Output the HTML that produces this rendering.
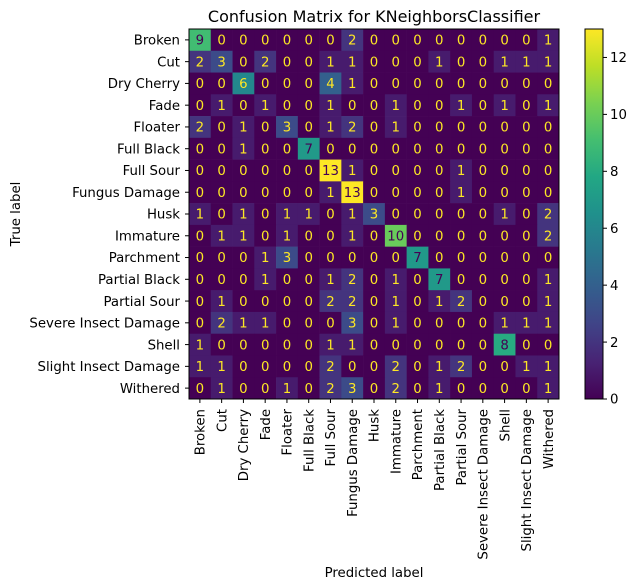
<!DOCTYPE html>
<html><head><meta charset="utf-8"><style>
html,body{margin:0;padding:0;background:#fff;width:639px;height:588px;overflow:hidden}
svg text{font-family:"DejaVu Sans","Liberation Sans",sans-serif}
</style></head><body>
<svg id="chart" width="639" height="588" viewBox="0 0 639 588" xmlns="http://www.w3.org/2000/svg">
<defs>
<linearGradient id="cbgrad" x1="0" y1="1" x2="0" y2="0"></linearGradient>
</defs>
<text x="374" y="22" font-size="16" text-anchor="middle">Confusion Matrix for KNeighborsClassifier</text>
<g id="cells"></g>
<g id="ylabels"></g>
<g id="xlabels"></g>
<text x="374" y="577" font-size="13.3" text-anchor="middle">Predicted label</text>
<text x="0" y="0" font-size="13.3" text-anchor="middle" transform="translate(20,214) rotate(-90)">True label</text>
<g id="colorbar"></g>
</svg>
<script>
const labels=["Broken","Cut","Dry Cherry","Fade","Floater","Full Black","Full Sour","Fungus Damage","Husk","Immature","Parchment","Partial Black","Partial Sour","Severe Insect Damage","Shell","Slight Insect Damage","Withered"];
const matrix=[
[9,0,0,0,0,0,0,2,0,0,0,0,0,0,0,0,1],
[2,3,0,2,0,0,1,1,0,0,0,1,0,0,1,1,1],
[0,0,6,0,0,0,4,1,0,0,0,0,0,0,0,0,0],
[0,1,0,1,0,0,1,0,0,1,0,0,1,0,1,0,1],
[2,0,1,0,3,0,1,2,0,1,0,0,0,0,0,0,0],
[0,0,1,0,0,7,0,0,0,0,0,0,0,0,0,0,0],
[0,0,0,0,0,0,13,1,0,0,0,0,1,0,0,0,0],
[0,0,0,0,0,0,1,13,0,0,0,0,1,0,0,0,0],
[1,0,1,0,1,1,0,1,3,0,0,0,0,0,1,0,2],
[0,1,1,0,1,0,0,1,0,10,0,0,0,0,0,0,2],
[0,0,0,1,3,0,0,0,0,0,7,0,0,0,0,0,0],
[0,0,0,1,0,0,1,2,0,1,0,7,0,0,0,0,1],
[0,1,0,0,0,0,2,2,0,1,0,1,2,0,0,0,1],
[0,2,1,1,0,0,0,3,0,1,0,0,0,0,1,1,1],
[1,0,0,0,0,0,1,1,0,0,0,0,0,0,8,0,0],
[1,1,0,0,0,0,2,0,0,2,0,1,2,0,0,1,1],
[0,1,0,0,1,0,2,3,0,2,0,1,0,0,0,0,1]
];
const cbTicks=[0,2,4,6,8,10,12];
const vmin=0, vmax=13;
const NS="http://www.w3.org/2000/svg";
const X0=189,Y0=29,W=370,H=370,n=labels.length,cw=W/n,ch=H/n;
const FS=13.3;
const vir=[[68,1,84],[72,35,116],[64,67,135],[52,94,141],[41,120,142],[32,144,140],[34,167,132],[68,190,112],[121,209,81],[189,222,38],[253,231,37]];
function cmap(t){t=Math.max(0,Math.min(1,t));const p=t*(vir.length-1),i=Math.min(Math.floor(p),vir.length-2),f=p-i;
const c=vir[i].map((v,k)=>Math.round(v+(vir[i+1][k]-v)*f));return `rgb(${c[0]},${c[1]},${c[2]})`;}
const xs=j=>X0+j*cw, ys=i=>Y0+i*ch;
function mk(tag,attrs,parent){const e=document.createElementNS(NS,tag);for(const k in attrs)e.setAttribute(k,attrs[k]);parent.appendChild(e);return e;}
const cells=document.getElementById('cells');
const thresh=(vmax+vmin)/2;
matrix.forEach((row,i)=>row.forEach((v,j)=>{
 const r=mk('rect',{x:xs(j),y:ys(i),width:cw+0.3,height:ch+0.3,fill:cmap((v-vmin)/(vmax-vmin))},cells);
 
 
 const t=mk('text',{x:xs(j)+cw/2,y:ys(i)+ch/2+4.7,'font-size':FS,'text-anchor':'middle',fill:v<thresh?'#fde725':'#440154'},cells);
 t.textContent=v;
 
 
}));
mk('rect',{x:X0,y:Y0,width:W,height:H,fill:'none',stroke:'#000','stroke-width':1},cells);
const yl=document.getElementById('ylabels'),xl=document.getElementById('xlabels');
labels.forEach((l,i)=>{
 mk('line',{x1:X0-4,x2:X0,y1:ys(i)+ch/2,y2:ys(i)+ch/2,stroke:'#000'},yl);
 const t=mk('text',{x:X0-9,y:ys(i)+ch/2+4.7,'font-size':FS,'text-anchor':'end'},yl);
 t.textContent=l;
 
 
 const cx=xs(i)+cw/2;
 mk('line',{x1:cx,x2:cx,y1:Y0+H,y2:Y0+H+4,stroke:'#000'},xl);
 const u=mk('text',{x:0,y:0,'font-size':FS,'text-anchor':'end',transform:`translate(${cx+4.7},${Y0+H+10}) rotate(-90)`},xl);
 u.textContent=l;
 
 
});
const grad=document.getElementById('cbgrad');
for(let k=0;k<=20;k++){mk('stop',{offset:k/20,'stop-color':cmap(k/20)},grad);}
const cb=document.getElementById('colorbar');
const CX=585,CW=18,CT=29,CB=399;
const cbr=mk('rect',{x:CX,y:CT,width:CW,height:CB-CT,fill:'url(#cbgrad)',stroke:'#000','stroke-width':1},cb);


cbTicks.forEach(v=>{
 const y=CB-(v-vmin)/(vmax-vmin)*(CB-CT);
 mk('line',{x1:CX+CW,x2:CX+CW+4,y1:y,y2:y,stroke:'#000'},cb);
 const t=mk('text',{x:CX+CW+7,y:y+4.7,'font-size':FS},cb);
 t.textContent=v;
 
 
});
</script>
</body></html>
